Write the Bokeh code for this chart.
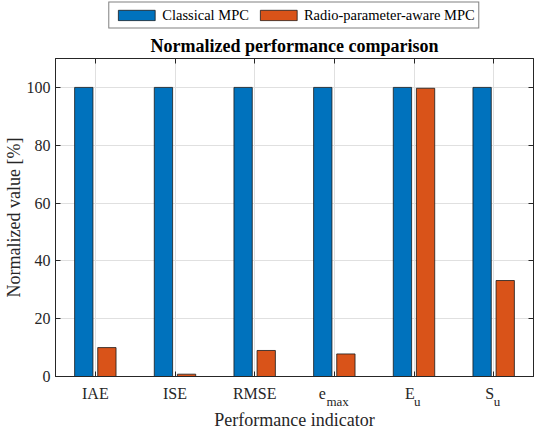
from bokeh.plotting import figure
from bokeh.models import (Range1d, FixedTicker, LinearAxis, Legend, LegendItem,
                          ColumnDataSource)
from bokeh.transform import dodge
from bokeh.layouts import column
from bokeh.embed import file_html
from bokeh.resources import INLINE

# ---- data ----
categories = ["IAE", "ISE", "RMSE", "e_max", "E_u", "S_u"]
tick_main = ["IAE", "ISE", "RMSE", "e", "E", "S"]
tick_sub = ["", "", "", "max", "u", "u"]
classical_mpc = [100, 100, 100, 100, 100, 100]
radio_aware_mpc = [10.0, 0.8, 9.0, 7.8, 99.7, 33.2]
y_ticks = [0, 20, 40, 60, 80, 100]
series_names = ["Classical MPC", "Radio-parameter-aware MPC"]

FONT = "Liberation Serif"
AX = "#262626"
BLUE = "#0072BD"
ORANGE = "#D95319"
NB = "\u00a0"

pos = list(range(1, len(categories) + 1))
src = ColumnDataSource(dict(pos=pos, classical=classical_mpc, aware=radio_aware_mpc))

# ---------------- main plot ----------------
p = figure(width=534, height=402, output_backend="svg", toolbar_location=None,
           x_range=Range1d(0.5, len(categories) + 0.5), y_range=Range1d(0, 110),
           min_border_left=0, min_border_right=1, min_border_top=0, min_border_bottom=0)

p.title.text = "Normalized performance comparison"
p.title.text_font = FONT
p.title.text_font_size = "18px"
p.title.text_font_style = "bold"
p.title.text_color = "#000000"
p.title.align = "center"
p.title.standoff = 6

r1 = p.vbar(x=dodge("pos", -0.145, range=p.x_range), top="classical", width=0.23,
            source=src, fill_color=BLUE, line_color="#1a1a1a", line_width=0.8)
r2 = p.vbar(x=dodge("pos", 0.145, range=p.x_range), top="aware", width=0.23,
            source=src, fill_color=ORANGE, line_color="#1a1a1a", line_width=0.8)

main_pad = {"e": 6, "E": 2, "S": 2}
xa = p.xaxis[0]
xa.ticker = FixedTicker(ticks=pos)
xa.major_label_overrides = {i: (m if s == "" else m + NB * main_pad[m])
                            for i, m, s in zip(pos, tick_main, tick_sub)}
ya = p.yaxis[0]
ya.ticker = FixedTicker(ticks=y_ticks)
ya.axis_label = "Normalized value [%]"

xs = LinearAxis(ticker=FixedTicker(ticks=pos),
                major_label_overrides={i: (NB * 2 + s if s else "") for i, s in zip(pos, tick_sub)},
                axis_label="Performance indicator")
p.add_layout(xs, "below")

for ax in (xa, ya, xs):
    ax.major_label_text_font = FONT
    ax.major_label_text_font_size = "16px"
    ax.major_label_text_color = AX
    ax.axis_label_text_font = FONT
    ax.axis_label_text_font_size = "18px"
    ax.axis_label_text_font_style = "normal"
    ax.axis_label_text_color = AX
    ax.axis_line_color = AX
    ax.major_tick_line_color = AX
    ax.major_tick_in = 5
    ax.major_tick_out = 0
    ax.minor_tick_line_color = None
xs.major_label_text_font_size = "13px"
xs.axis_line_color = None
xs.major_tick_line_color = None
xa.major_label_standoff = 8
xs.major_label_standoff = -11
xs.axis_label_standoff = -2
ya.major_label_standoff = 5
ya.axis_label_standoff = 0

top_ax = LinearAxis(ticker=FixedTicker(ticks=pos), major_label_overrides={i: "" for i in pos},
                    major_label_standoff=0, major_tick_in=5, major_tick_out=0,
                    minor_tick_line_color=None, axis_line_color=AX, major_tick_line_color=AX)
right_ax = LinearAxis(ticker=FixedTicker(ticks=y_ticks), major_label_overrides={i: "" for i in y_ticks},
                      major_label_standoff=0, major_tick_in=5, major_tick_out=0,
                      minor_tick_line_color=None, axis_line_color=AX, major_tick_line_color=AX)
p.add_layout(top_ax, "above")
p.add_layout(right_ax, "right")

p.xgrid.ticker = FixedTicker(ticks=pos)
p.ygrid.ticker = FixedTicker(ticks=y_ticks)
p.grid.grid_line_color = "#e0e0e0"
p.grid.grid_line_width = 1
p.outline_line_color = AX
p.outline_line_alpha = 1.0

# ---------------- legend strip ----------------
lg = figure(width=534, height=30, output_backend="svg", toolbar_location=None,
            x_range=Range1d(0.5, len(categories) + 0.5), y_range=Range1d(-10, -9),
            x_axis_type=None, y_axis_type=None,
            min_border_left=0, min_border_right=0, min_border_top=0, min_border_bottom=0)
lg.outline_line_color = None
lg.grid.visible = False
l1 = lg.vbar(x="pos", top="classical", bottom=-20, width=0.01, source=src,
             fill_color=BLUE, line_color="#1a1a1a", line_width=0.8, visible=True)
l2 = lg.vbar(x="pos", top="aware", bottom=-20, width=0.01, source=src,
             fill_color=ORANGE, line_color="#1a1a1a", line_width=0.8)
l1.glyph.top = -30
l2.glyph.top = -30
legend = Legend(items=[LegendItem(label=series_names[0], renderers=[l1]),
                       LegendItem(label=series_names[1], renderers=[l2])],
                orientation="horizontal", location="center", margin=0, padding=4,
                spacing=6, label_standoff=3, glyph_width=46, glyph_height=13,
                label_height=14, label_text_font=FONT, label_text_font_size="14.5px",
                label_text_color="#000000", border_line_color="#000000",
                border_line_width=1, background_fill_color="white")
lg.add_layout(legend)

layout = column(lg, p, spacing=0)
open("out.html", "w").write(file_html(layout, INLINE))
